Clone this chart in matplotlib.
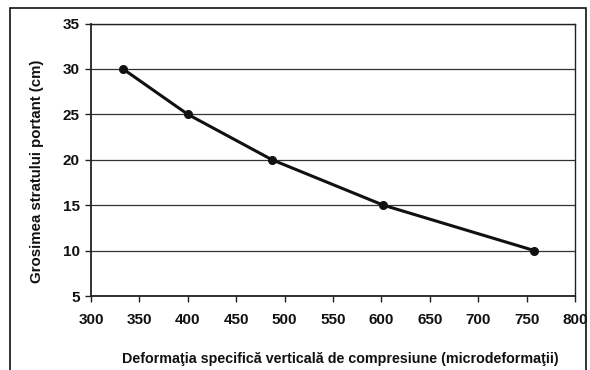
import matplotlib
matplotlib.use("Agg")
import matplotlib.pyplot as plt
from matplotlib.patches import Rectangle

plt.rcParams['font.family'] = ['Liberation Sans', 'DejaVu Sans']
plt.rcParams['font.weight'] = 'bold'

strain = [333, 400, 487, 602, 758]
thickness = [30, 25, 20, 15, 10]
x_ticks = [300, 350, 400, 450, 500, 550, 600, 650, 700, 750, 800]
y_ticks = [5, 10, 15, 20, 25, 30, 35]
x_label = "Deformaţia specifică verticală de compresiune (microdeformaţii)"
y_label = "Grosimea stratului portant (cm)"

fig = plt.figure(figsize=(5.9, 3.7), dpi=100)
fig.patch.set_facecolor('white')
ax = fig.add_axes([91/590, 1-296/370, (575-91)/590, (296-23.5)/370])

ax.plot(strain, thickness, color='#111111', lw=2.2, marker='o', ms=5.5,
        markerfacecolor='#111111', markeredgecolor='#111111', zorder=3)

ax.set_xlim(300, 800)
ax.set_ylim(5, 35)
ax.set_xticks(x_ticks)
ax.set_yticks(y_ticks)
ax.yaxis.grid(True, color='#333333', lw=0.9)
ax.set_axisbelow(True)
for s in ax.spines.values():
    s.set_color('#222222')
    s.set_linewidth(1.0)
ax.spines['left'].set_linewidth(1.3)
ax.spines['bottom'].set_linewidth(1.3)
ax.tick_params(axis='both', direction='out', length=4, width=1, color='#222222',
               labelsize=11, pad=4)
ax.tick_params(axis='x', pad=8)
for lbl in ax.get_xticklabels() + ax.get_yticklabels():
    lbl.set_fontweight('bold')
    lbl.set_color('#111111')

fig.text(340/590, 1-359/370, x_label, ha='center', va='center',
         fontsize=10.3, fontweight='bold', color='#111111')
fig.text(37/590, 1-171/370, y_label, ha='center', va='center', rotation=90,
         fontsize=10.8, fontweight='bold', color='#111111')

fig.add_artist(Rectangle((10/590, -0.1), (586-10)/590, 1.1-8/370,
                         transform=fig.transFigure, fill=False,
                         edgecolor='#111111', lw=1.2))

fig.savefig("out.png", dpi=100)
